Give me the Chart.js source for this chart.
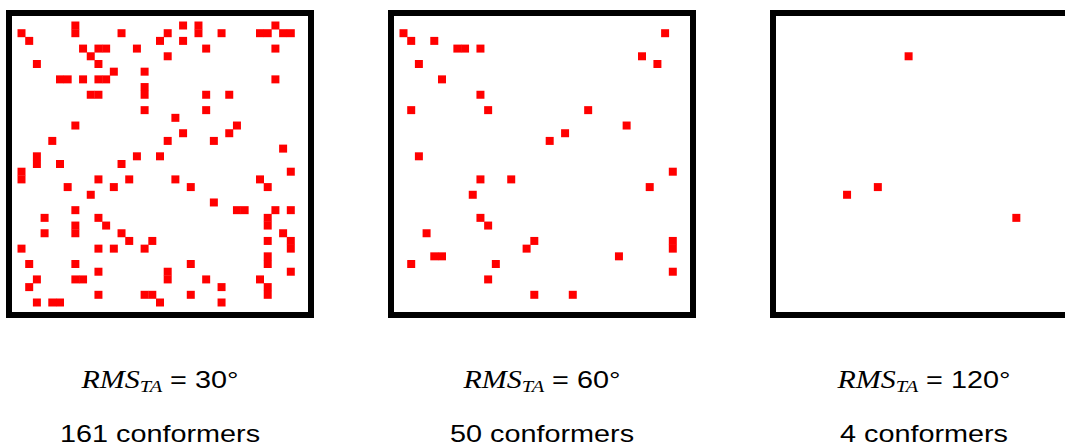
<!DOCTYPE html>
<html>
<head>
<meta charset="utf-8">
<script src="https://cdn.jsdelivr.net/npm/chart.js@4"></script>
<style>
  html, body { margin: 0; padding: 0; background: #fff; width: 1065px; height: 445px; overflow: hidden; }
  .panel { position: absolute; top: 10px; border: 6px solid #000; width: 296px; height: 296px; }
  .panel canvas { display: block; }
  .label { position: absolute; width: 340px; text-align: center; white-space: nowrap;
           transform: scaleX(1.2); transform-origin: center; color: #000; }
  .rms { top: 366px; font: 24px "Liberation Sans", Arial, sans-serif; line-height: 28px; }
  .rms i { font: italic 25px "Liberation Serif", "Times New Roman", serif; }
  .rms .sub { font: italic 17px "Liberation Serif", "Times New Roman", serif; position: relative; top: 4px; }
  .count { top: 420px; font: 24px "Liberation Sans", Arial, sans-serif; line-height: 28px; }
</style>
</head>
<body>

<script>
// grid cells [column, row] on a 37 x 37 lattice, row 0 at the top
const cells30 = [
  [7,0],[21,0],[23,0],[33,0],
  [0,1],[7,1],[13,1],[19,1],[23,1],[26,1],[31,1],[32,1],[34,1],[35,1],
  [1,2],[18,2],[21,2],
  [8,3],[10,3],[11,3],[15,3],[24,3],[33,3],
  [9,4],[19,4],
  [2,5],[10,5],
  [12,6],[16,6],
  [5,7],[6,7],[8,7],[10,7],[11,7],[33,7],
  [16,8],
  [9,9],[10,9],[16,9],[24,9],[27,9],
  [16,11],[24,11],
  [20,12],
  [7,13],[28,13],
  [21,14],[27,14],
  [4,15],[19,15],[25,15],
  [34,16],
  [2,17],[15,17],[18,17],
  [2,18],[5,18],[13,18],
  [0,19],[35,19],
  [0,20],[10,20],[14,20],[20,20],[31,20],
  [6,21],[12,21],[22,21],[32,21],
  [9,22],
  [25,23],
  [7,24],[28,24],[29,24],[33,24],[35,24],
  [3,25],[10,25],[32,25],
  [7,26],[11,26],[32,26],
  [3,27],[7,27],[13,27],[34,27],
  [14,28],[17,28],[32,28],[35,28],
  [0,29],[10,29],[12,29],[16,29],[35,29],
  [32,30],
  [1,31],[7,31],[22,31],[32,31],
  [10,32],[19,32],[35,32],
  [2,33],[7,33],[8,33],[19,33],[24,33],[31,33],
  [1,34],[26,34],[32,34],
  [10,35],[16,35],[17,35],[22,35],[32,35],
  [2,36],[4,36],[5,36],[18,36],[26,36]
];

const cells60 = [
  [0,1],[34,1],[1,2],[4,2],[7,3],[8,3],[10,3],[31,4],[2,5],[33,5],
  [5,7],[10,9],[1,11],[11,11],[24,11],[29,13],[21,14],[19,15],[2,17],
  [35,19],[10,20],[14,20],[32,21],[9,22],[10,25],[11,26],[3,27],
  [17,28],[35,28],[16,29],[35,29],[4,30],[5,30],[28,30],[1,31],[12,31],
  [35,32],[11,33],[17,35],[22,35]
];

const cells120 = [[16,4],[12,21],[8,22],[30,25]];

const rmsAngles = [30, 60, 120];
const conformerCounts = [161, 50, 4];
const panelLefts = [6, 388, 770];

const GRID = 37;

function makePanel(idx, cells) {
  const left = panelLefts[idx];
  const box = document.createElement('div');
  box.className = 'panel';
  box.style.left = left + 'px';
  const canvas = document.createElement('canvas');
  canvas.width = 296;
  canvas.height = 296;
  box.appendChild(canvas);
  document.body.appendChild(box);

  // labels under each panel
  const center = left + 6 + 148;
  const rms = document.createElement('div');
  rms.className = 'label rms';
  rms.style.left = (center - 170) + 'px';
  rms.innerHTML = '<i>RMS</i><span class="sub">TA</span> = ' + rmsAngles[idx] + '°';
  document.body.appendChild(rms);

  const cnt = document.createElement('div');
  cnt.className = 'label count';
  cnt.style.left = (center - 170) + 'px';
  cnt.textContent = conformerCounts[idx] + ' conformers';
  document.body.appendChild(cnt);

  new Chart(canvas.getContext('2d'), {
    type: 'scatter',
    data: {
      datasets: [{
        data: cells.map(c => ({ x: c[0], y: c[1] })),
        pointStyle: 'rect',
        pointRadius: 4 * Math.SQRT2,   // rect side = 8px = one cell
        pointHoverRadius: 4 * Math.SQRT2,
        pointBorderWidth: 0,
        backgroundColor: '#ff0000',
        borderColor: '#ff0000',
        clip: false
      }]
    },
    options: {
      responsive: false,
      animation: false,
      events: [],
      layout: { padding: 0 },
      plugins: { legend: { display: false }, tooltip: { enabled: false } },
      scales: {
        x: { type: 'linear', min: -0.5, max: GRID - 0.5, display: false },
        y: { type: 'linear', min: -0.5, max: GRID - 0.5, reverse: true, display: false }
      }
    }
  });
}

makePanel(0, cells30);
makePanel(1, cells60);
makePanel(2, cells120);
</script>
</body>
</html>
